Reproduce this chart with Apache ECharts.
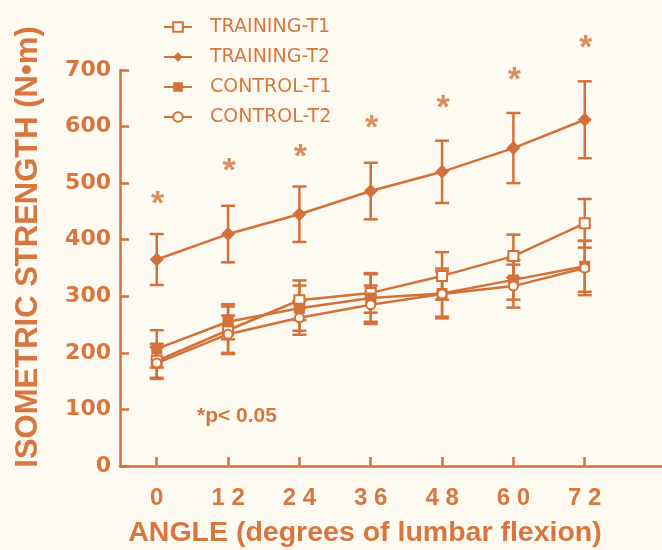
<!DOCTYPE html>
<html>
<head>
<meta charset="utf-8">
<script src="https://cdn.jsdelivr.net/npm/echarts@6/dist/echarts.min.js"></script>
<style>
html,body{margin:0;padding:0;background:#fdfbf1;}
#chart{width:662px;height:550px;}
</style>
</head>
<body>
<div id="chart"></div>
<script>
// ---- data ----
var angles = [0, 12, 24, 36, 48, 60, 72];
var angleLabels = ['0', '1 2', '2 4', '3 6', '4 8', '6 0', '7 2'];
var yTicks = [0, 100, 200, 300, 400, 500, 600, 700];

var trainingT1 = [186, 240, 293, 306, 336, 371, 429];
var trainingT1Err = [30, 42, 35, 35, 42, 38, 43];
var trainingT2 = [365, 410, 445, 486, 520, 562, 612];
var trainingT2Err = [45, 50, 49, 50, 55, 62, 68];
var controlT1 = [207, 255, 279, 297, 305, 329, 353];
var controlT1Err = [33, 31, 40, 42, 44, 35, 45];
var controlT2 = [182, 233, 262, 285, 304, 318, 350];
var controlT2Err = [28, 33, 30, 34, 40, 38, 48];

var asteriskY = [478, 537, 561, 612, 648, 698, 754];

var seriesNames = ['TRAINING-T1', 'TRAINING-T2', 'CONTROL-T1', 'CONTROL-T2'];
var yTitle = 'ISOMETRIC STRENGTH (N\u2022m)';
var xTitle = 'ANGLE (degrees of lumbar flexion)';
var noteText = '*p< 0.05';

// ---- styling ----
var C = '#d4703a';
var TXT = '#d8763f';
var BG = '#fdfbf1';

function pairs(vals) {
  return angles.map(function (a, i) { return [a, vals[i]]; });
}
function errData(vals, errs) {
  return angles.map(function (a, i) { return [a, vals[i] - errs[i], vals[i] + errs[i]]; });
}
function errSeries(vals, errs) {
  return {
    type: 'custom',
    silent: true,
    z: 1,
    data: errData(vals, errs),
    renderItem: function (params, api) {
      var lo = api.coord([api.value(0), api.value(1)]);
      var hi = api.coord([api.value(0), api.value(2)]);
      var w = 7;
      var st = { stroke: C, lineWidth: 2.5 };
      return {
        type: 'group',
        children: [
          { type: 'line', shape: { x1: lo[0], y1: lo[1], x2: hi[0], y2: hi[1] }, style: st },
          { type: 'line', shape: { x1: lo[0] - w, y1: lo[1], x2: lo[0] + w, y2: lo[1] }, style: st },
          { type: 'line', shape: { x1: hi[0] - w, y1: hi[1], x2: hi[0] + w, y2: hi[1] }, style: st }
        ]
      };
    }
  };
}
function lineSeries(name, vals, symbol, size, filled) {
  return {
    name: name,
    type: 'line',
    z: 3,
    data: pairs(vals),
    symbol: symbol,
    symbolSize: size,
    showAllSymbol: true,
    lineStyle: { color: C, width: 2.5 },
    itemStyle: filled ? { color: C } : { color: BG, borderColor: C, borderWidth: 2 }
  };
}

var chart = echarts.init(document.getElementById('chart'));
chart.setOption({
  backgroundColor: BG,
  animation: false,
  grid: { left: 120, top: 70, right: 0, bottom: 84 },
  legend: {
    orient: 'vertical',
    left: 158,
    top: 12,
    itemWidth: 28,
    itemHeight: 12,
    itemGap: 10,
    data: seriesNames,
    textStyle: {
      color: TXT,
      fontFamily: 'DejaVu Sans',
      fontSize: 19,
      lineHeight: 20,
      padding: [0, 0, 0, 13]
    }
  },
  xAxis: {
    type: 'value',
    min: -6.18,
    max: 85,
    splitLine: { show: false },
    axisLine: { show: true, onZero: false, lineStyle: { color: C, width: 2.5 } },
    axisTick: { show: true, inside: true, length: 9, lineStyle: { color: C, width: 2.5 }, customValues: angles },
    axisLabel: {
      customValues: angles,
      margin: 20,
      color: TXT,
      fontFamily: 'Liberation Sans',
      fontWeight: 'bold',
      fontSize: 24,
      formatter: function (v) {
        var i = angles.indexOf(v);
        return i >= 0 ? angleLabels[i] : '';
      }
    }
  },
  yAxis: {
    type: 'value',
    min: 0,
    max: 700,
    interval: 100,
    splitLine: { show: false },
    axisLine: { show: true, onZero: false, lineStyle: { color: C, width: 2.5 } },
    axisTick: { show: true, inside: true, length: 9, lineStyle: { color: C, width: 2.5 } },
    axisLabel: {
      margin: 9,
      color: TXT,
      fontFamily: 'DejaVu Sans',
      fontWeight: 'bold',
      fontSize: 22,
      customValues: yTicks
    }
  },
  graphic: [
    {
      type: 'text', x: 28, y: 247, rotation: Math.PI / 2,
      style: { text: yTitle, fill: TXT, font: 'bold 31px "Liberation Sans"', align: 'center', verticalAlign: 'middle' }
    },
    {
      type: 'text', x: 365, y: 533,
      style: { text: xTitle, fill: TXT, font: 'bold 28.5px "Liberation Sans"', align: 'center', verticalAlign: 'middle' }
    },
    {
      type: 'text', x: 197, y: 416,
      style: { text: noteText, fill: TXT, font: 'bold 21px "Liberation Sans"', align: 'left', verticalAlign: 'middle' }
    }
  ],
  series: [
    errSeries(trainingT1, trainingT1Err),
    errSeries(trainingT2, trainingT2Err),
    errSeries(controlT1, controlT1Err),
    errSeries(controlT2, controlT2Err),
    lineSeries(seriesNames[0], trainingT1, 'rect', 10, false),
    lineSeries(seriesNames[1], trainingT2, 'diamond', 14, true),
    lineSeries(seriesNames[2], controlT1, 'path://M0,0H10V10H0Z M4,4V6H6V4Z', 11, true),
    lineSeries(seriesNames[3], controlT2, 'circle', 9, false),
    {
      type: 'scatter',
      silent: true,
      clip: false,
      z: 4,
      symbolSize: 1,
      itemStyle: { color: 'rgba(0,0,0,0)' },
      data: pairs(asteriskY),
      label: {
        show: true,
        position: 'inside',
        formatter: '*',
        color: C,
        fontFamily: 'Liberation Sans',
        fontWeight: 'bold',
        fontSize: 34,
        offset: [1, 9]
      }
    }
  ]
});
</script>
</body>
</html>
